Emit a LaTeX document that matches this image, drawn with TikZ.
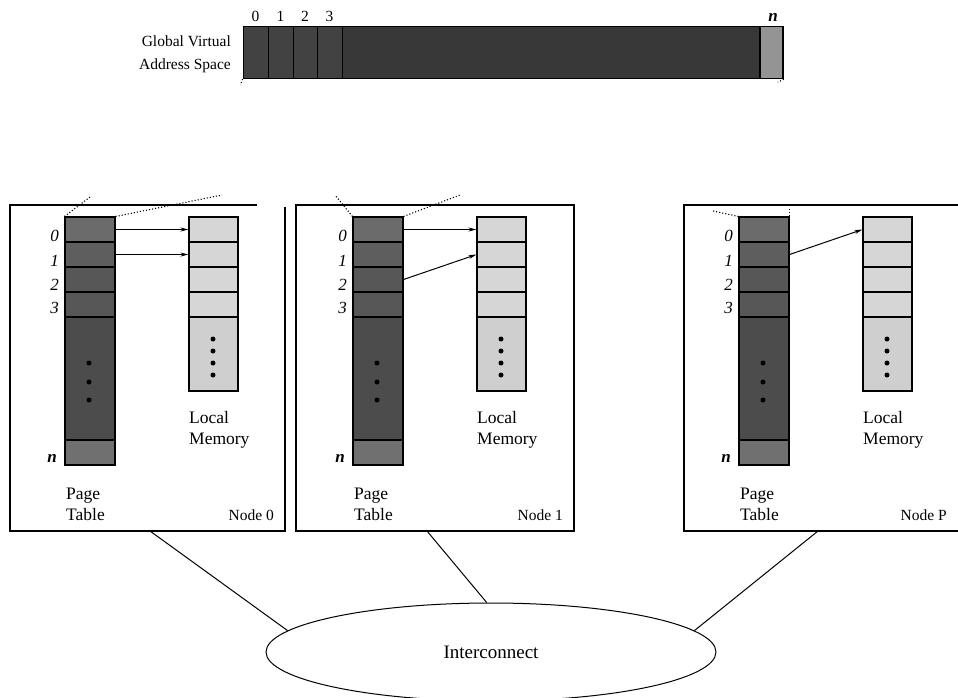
\documentclass[tikz,border=0pt]{standalone}
\usepackage{fontspec}
\setmainfont{Liberation Serif}
\usetikzlibrary{shapes.geometric,arrows.meta}

% One processing node: page table, local memory and captions.
% #1 name suffix, #2 box left, #3 box right, #4 caption
\newcommand{\procunit}[4]{%
  \pgfmathsetmacro{\pl}{#2+55}%
  \pgfmathsetmacro{\ml}{#2+179}%
  % page table cells
  \node[ptcell, minimum height=25pt] (pt#1r0) at (\pl+25,229.5) {};
  \node[ptcell, minimum height=25pt, fill=ptB] (pt#1r1) at (\pl+25,254.5) {};
  \node[ptcell, minimum height=25pt, fill=ptC] (pt#1r2) at (\pl+25,279.5) {};
  \node[ptcell, minimum height=25pt, fill=ptC] (pt#1r3) at (\pl+25,304.5) {};
  \node[ptcell, minimum height=123pt, fill=ptD] (pt#1body) at (\pl+25,378.5) {};
  \node[ptcell, minimum height=25pt, fill=ptE] (pt#1rn) at (\pl+25,452.5) {};
  \foreach \yy in {363,382,400} \fill (\pl+24,\yy) circle (2.5pt);
  % local memory cells
  \node[memcell, minimum height=25pt] (m#1r0) at (\ml+24.5,229.5) {};
  \node[memcell, minimum height=25pt] (m#1r1) at (\ml+24.5,254.5) {};
  \node[memcell, minimum height=25pt] (m#1r2) at (\ml+24.5,279.5) {};
  \node[memcell, minimum height=25pt] (m#1r3) at (\ml+24.5,304.5) {};
  \node[memcell, minimum height=74pt, fill=memB] (m#1body) at (\ml+24.5,354) {};
  \foreach \yy in {339,351,363,375} \fill (\ml+24,\yy) circle (2.5pt);
  % row numbers
  \node[rowlbl] (l#1a) at (\pl-6,241) {0};
  \node[rowlbl] (l#1b) at (\pl-6,266) {1};
  \node[rowlbl] (l#1c) at (\pl-6,290) {2};
  \node[rowlbl] (l#1d) at (\pl-6,313.5) {3};
  \node[rowlbl, font=\fontsize{17}{20}\selectfont\bfseries\itshape] (l#1n) at (\pl-8,462) {n};
  % captions
  \node[captxt] (cap#1a) at (\ml,423) {Local};
  \node[captxt] (cap#1b) at (\ml,444) {Memory};
  \node[captxt] (cap#1c) at (\pl+1,499) {Page};
  \node[captxt] (cap#1d) at (\pl+1,520) {Table};
  \node[lbl, anchor=base east] (cap#1e) at (#3-11,520) {#4};
}

\begin{document}
\begin{tikzpicture}[x=1pt, y=-1pt,
  lbl/.style={font=\fontsize{15.5}{19}\selectfont, inner sep=0pt},
  captxt/.style={font=\fontsize{17.5}{21}\selectfont, inner sep=0pt, anchor=base west},
  rowlbl/.style={font=\fontsize{17}{20}\selectfont\itshape, inner sep=0pt, anchor=base east},
  ptcell/.style={draw=black, line width=1.1pt, fill=ptA, minimum width=50pt, inner sep=0pt},
  memcell/.style={draw=black, line width=1.1pt, fill=memA, minimum width=49pt, inner sep=0pt},
  gcell/.style={draw=black, line width=1pt, fill=gvA, minimum height=52pt, inner sep=0pt},
  boxline/.style={line width=1.8pt},
  arr/.style={line width=1pt, -{Stealth[length=8pt, width=4pt]}},
  proj/.style={dotted, line width=1.1pt},
  wire/.style={line width=1pt}]

\definecolor{ptA}{gray}{0.42}
\definecolor{ptB}{gray}{0.37}
\definecolor{ptC}{gray}{0.34}
\definecolor{ptD}{gray}{0.30}
\definecolor{ptE}{gray}{0.44}
\definecolor{memA}{gray}{0.84}
\definecolor{memB}{gray}{0.81}
\definecolor{gvA}{gray}{0.26}
\definecolor{gvB}{gray}{0.22}
\definecolor{gvN}{gray}{0.58}

\useasboundingbox (0,0) rectangle (958,697);

% global virtual address space
\node[gcell, minimum width=25pt] (g0) at (255.5,52.5) {};
\node[gcell, minimum width=25pt] (g1) at (280.5,52.5) {};
\node[gcell, minimum width=24pt] (g2) at (305,52.5) {};
\node[gcell, minimum width=25pt] (g3) at (329.5,52.5) {};
\node[gcell, minimum width=418pt, fill=gvB] (grest) at (551,52.5) {};
\node[gcell, minimum width=23pt, fill=gvN, line width=1.5pt] (gn) at (771.5,52.5) {};
\node[lbl, anchor=base] (t0) at (255.5,21) {0};
\node[lbl, anchor=base] (t1) at (280.5,21) {1};
\node[lbl, anchor=base] (t2) at (305,21) {2};
\node[lbl, anchor=base] (t3) at (329.5,21) {3};
\node[lbl, anchor=base, font=\fontsize{17}{20}\selectfont\bfseries\itshape] (tn) at (773,21) {n};
\node[lbl, anchor=base east] (gl1) at (231,46) {Global Virtual};
\node[lbl, anchor=base east] (gl2) at (231,69) {Address Space};
\coordinate (gsw) at (g0.south west);
\coordinate (gse) at (gn.south east);
\draw[proj] (gsw) -- ++(-2,6);
\draw[proj] (gse) -- ++(-6,3);

% node boxes
\draw[boxline] (257,205) -- (10,205) -- (10,531) -- (285,531) -- (285,207);
\draw[boxline] (296,205) rectangle (574,531);
\draw[boxline] (980,205) -- (684,205) -- (684,531) -- (980,531);

\procunit{0}{10}{285}{Node 0}
\procunit{1}{298}{574}{Node 1}
\procunit{P}{684}{958}{Node P}

% page table to local memory mappings
\draw[arr] (pt0r0.east) -- (m0r0.west);
\draw[arr] (pt0r1.east) -- (m0r1.west);
\draw[arr] (pt1r0.east) -- (m1r0.west);
\draw[arr] (pt1r2.east) -- (m1r1.west);
\draw[arr] (ptPr1.east) -- (mPr0.west);

% projections of the page tables towards the address space
\draw[proj] (pt0r0.north west) -- (90,197);
\draw[proj] (pt0r0.north east) -- (222,195);
\draw[proj] (pt1r0.north west) -- (335,195);
\draw[proj] (pt1r0.north east) -- (460,195);
\draw[proj] (ptPr0.north west) -- (713,211);
\draw[proj] (ptPr0.north east) -- ++(0,-8);

% interconnect
\node[draw=black, line width=1pt, ellipse, minimum width=450pt, minimum height=98pt, inner sep=0pt,
      font=\fontsize{19}{22}\selectfont] (ic) at (491,652) {Interconnect};
\coordinate (c0) at (150,531);
\coordinate (c1) at (427,531);
\coordinate (cP) at (818,531);
\draw[wire] (c0) -- (ic.174);
\draw[wire] (c1) -- (ic.95);
\draw[wire] (cP) -- (ic.6);
\end{tikzpicture}
\end{document}
